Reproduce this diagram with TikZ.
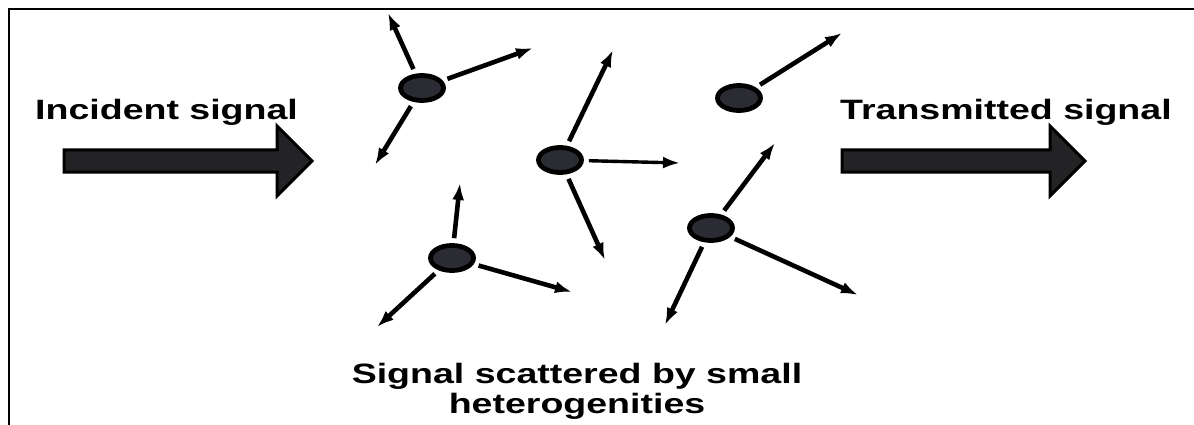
\documentclass[tikz,border=0pt]{standalone}
\usepackage{fontspec}
\setmainfont{Liberation Sans}
\usetikzlibrary{shapes.geometric,shapes.arrows,arrows.meta}
\definecolor{partfill}{HTML}{2B2B33}
\definecolor{arrowfill}{HTML}{232326}
\begin{document}
\begin{tikzpicture}[x=1pt,y=-1pt,
  particle/.style={ellipse,draw=black,line width=4.8pt,fill=partfill,minimum width=43pt,minimum height=25pt,inner sep=0pt},
  scat/.style={line width=4.6pt,-{Latex[length=17pt,width=12pt]},shorten <=5pt},
  bigarrow/.style={single arrow,draw=black,line width=3pt,fill=arrowfill,inner xsep=0pt,inner ysep=9.5pt,minimum width=67pt,single arrow head extend=24pt},
  lbl/.style={font=\bfseries\fontsize{28}{30}\selectfont,inner sep=0pt}]
\useasboundingbox (0,0) rectangle (1194,425);
% frame
\draw[line width=2pt] (9,425) -- (9,9.5) -- (1194,9.5);
% labels
\node[lbl,anchor=base west] (inc) at (35,120) {\scalebox{1.34}[1]{Incident signal}};
\node[lbl,anchor=base west] (tra) at (840,120) {\scalebox{1.34}[1]{Transmitted signal}};
\node[lbl,anchor=base] (cap1) at (577,383) {\scalebox{1.34}[1]{Signal scattered by small}};
\node[lbl,anchor=base] (cap2) at (577,413) {\scalebox{1.34}[1]{heterogenities}};
% big arrows
\node[bigarrow,minimum height=248pt] (inarrow) at (182.5,161) {};
\node[bigarrow,minimum height=243pt] (outarrow) at (958,161) {};
% particles
\node[particle] (p1) at (422,88) {};
\node[particle] (p2) at (560,160) {};
\node[particle] (p3) at (452,258) {};
\node[particle] (p4) at (739,98) {};
\node[particle] (p5) at (711,228) {};
% arrow ends
\coordinate (e1a) at (388,13);
\coordinate (e1b) at (533,48);
\coordinate (e1c) at (375,165);
\coordinate (e2a) at (613,50);
\coordinate (e2b) at (680,163);
\coordinate (e2c) at (605,260);
\coordinate (e3a) at (460,183);
\coordinate (e3b) at (572,292);
\coordinate (e3c) at (377,327);
\coordinate (e4a) at (842,33);
\coordinate (e5a) at (775,143);
\coordinate (e5b) at (858,295);
\coordinate (e5c) at (665,325);
% scattered signals
\draw[scat] (p1) -- (e1a);
\draw[scat] (p1) -- (e1b);
\draw[scat] (p1) -- (e1c);
\draw[scat] (p2) -- (e2a);
\draw[scat,line width=3.4pt] (p2) -- (e2b);
\draw[scat] (p2) -- (e2c);
\draw[scat] (p3) -- (e3a);
\draw[scat] (p3) -- (e3b);
\draw[scat] (p3) -- (e3c);
\draw[scat] (p4) -- (e4a);
\draw[scat] (p5) -- (e5a);
\draw[scat] (p5) -- (e5b);
\draw[scat] (p5) -- (e5c);
\end{tikzpicture}
\end{document}
